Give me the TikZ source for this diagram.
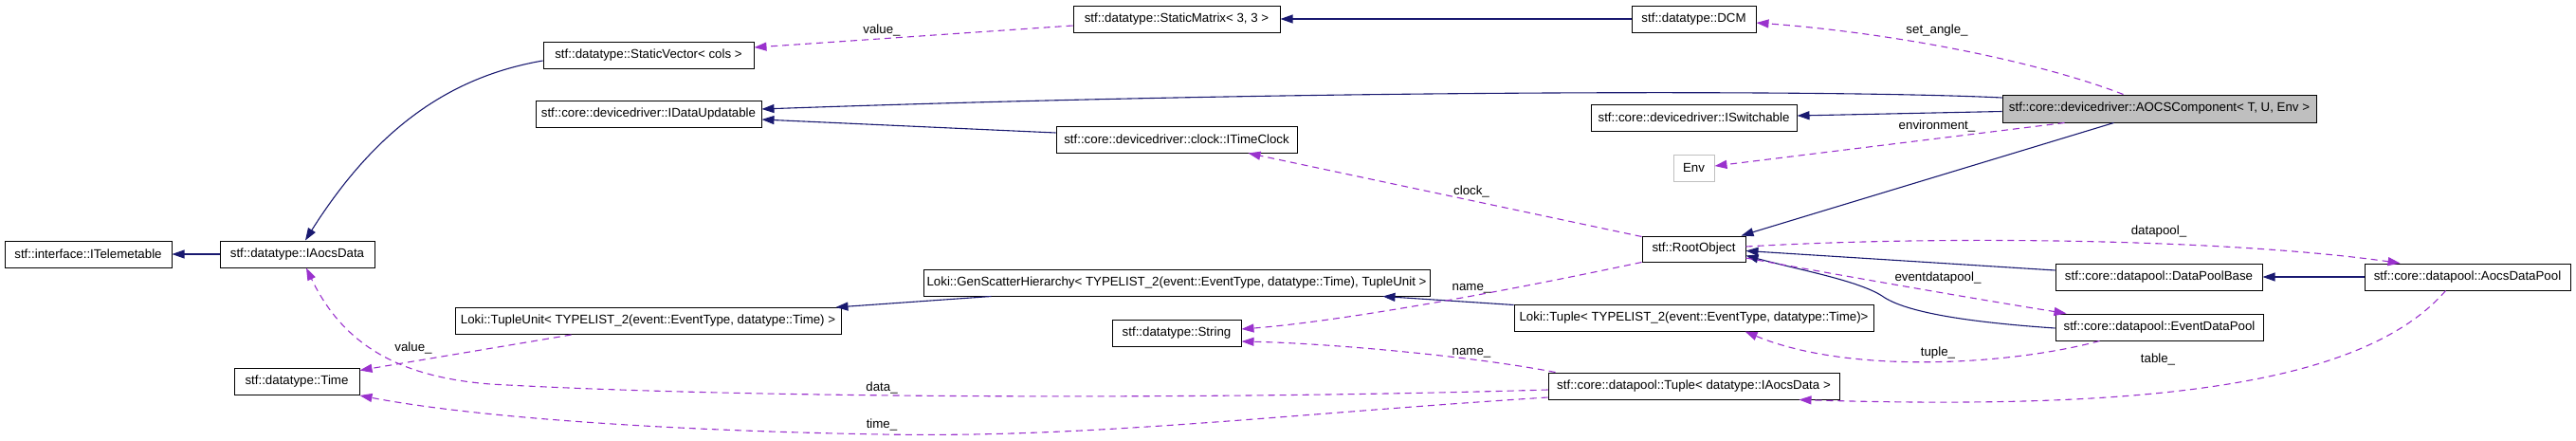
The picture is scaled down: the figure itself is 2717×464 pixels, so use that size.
\documentclass[tikz,border=0pt]{standalone}
\usepackage{fontspec}
\setmainfont{Liberation Sans}
\usetikzlibrary{arrows.meta,calc}
\definecolor{inhc}{RGB}{25,25,112}
\definecolor{usec}{RGB}{154,50,205}
\definecolor{boxgray}{RGB}{191,191,191}
\begin{document}
\begin{tikzpicture}[x=1pt,y=-1pt,
  cls/.style={draw=black, line width=1pt, fill=white, minimum height=28pt, inner sep=0pt,
    font=\fontsize{13.3}{16}\selectfont, anchor=center},
  inh/.style={draw=inhc, line width=1.1pt, -{Triangle[length=13pt,width=9pt]}},
  use/.style={draw=usec, line width=1.1pt, dash pattern=on 7pt off 5pt, -{Triangle[length=13pt,width=9pt]}},
  lbl/.style={font=\fontsize{13.3}{16}\selectfont, inner sep=0pt}]
\useasboundingbox (0,0) rectangle (2717,464);
% nodes
\node[cls, minimum width=176pt] (tel) at (93,268) {stf::interface::ITelemetable};
\node[cls, minimum width=163pt] (iaocs) at (313.5,268) {stf::datatype::IAocsData};
\node[cls, minimum width=222pt] (svec) at (684,58) {stf::datatype::StaticVector< cols >};
\node[cls, minimum width=238pt] (supd) at (684,120) {stf::core::devicedriver::IDataUpdatable};
\node[cls, minimum width=407pt] (tunit) at (683.5,338.5) {Loki::TupleUnit< TYPELIST\_2(event::EventType, datatype::Time) >};
\node[cls, minimum width=132pt] (time) at (313,402.5) {stf::datatype::Time};
\node[cls, minimum width=218pt] (smat) at (1241,20) {stf::datatype::StaticMatrix< 3, 3 >};
\node[cls, minimum width=254pt] (clock) at (1241,147) {stf::core::devicedriver::clock::ITimeClock};
\node[cls, minimum width=534pt] (gsh) at (1241,298) {Loki::GenScatterHierarchy< TYPELIST\_2(event::EventType, datatype::Time), TupleUnit >};
\node[cls, minimum width=136pt] (str) at (1241,351.5) {stf::datatype::String};
\node[cls, minimum width=131pt] (dcm) at (1786.5,20) {stf::datatype::DCM};
\node[cls, minimum width=217pt] (isw) at (1786.5,124) {stf::core::devicedriver::ISwitchable};
\node[cls, draw=boxgray, minimum width=43pt] (env) at (1786.5,177) {Env};
\node[cls, minimum width=109pt, minimum height=27pt] (root) at (1786.5,262.5) {stf::RootObject};
\node[cls, minimum width=379pt] (ltuple) at (1786.5,335) {Loki::Tuple< TYPELIST\_2(event::EventType, datatype::Time)>};
\node[cls, minimum width=307pt] (dtuple) at (1786.5,407) {stf::core::datapool::Tuple< datatype::IAocsData >};
\node[cls, fill=boxgray, minimum width=331pt, minimum height=29pt] (aocs) at (2277.5,114.5) {stf::core::devicedriver::AOCSComponent< T, U, Env >};
\node[cls, minimum width=218pt] (dpbase) at (2277,292) {stf::core::datapool::DataPoolBase};
\node[cls, minimum width=219pt] (edp) at (2277.5,345) {stf::core::datapool::EventDataPool};
\node[cls, minimum width=217pt] (adp) at (2602.5,292) {stf::core::datapool::AocsDataPool};
% inheritance edges
\draw[inh] (iaocs.west) -- (tel.east);
\draw[inh] ($(svec.west)+(0,6)$) .. controls (480,80) and (400,130) .. ($(iaocs.north)+(8.5,0)$);
\draw[inh] (dcm.west) -- (smat.east);
\draw[inh] ($(aocs.west)+(0,-11.5)$) .. controls (1950,95) and (1400,94) .. ($(supd.east)+(0,-5)$);
\draw[inh] ($(clock.west)+(0,-7)$) -- ($(supd.east)+(0,6)$);
\draw[inh] ($(aocs.west)+(0,3)$) -- ($(isw.east)+(0,-2)$);
\draw[inh] ($(aocs.south west)+(118,0)$) -- ($(root.north east)+(-5,0)$);
\draw[inh] ($(ltuple.north west)+(0,1)$) -- ($(gsh.south east)+(-50,0)$);
\draw[inh] ($(gsh.south west)+(72,0)$) -- ($(tunit.north east)+(-6,0)$);
\draw[inh] ($(dpbase.west)+(0,-7)$) -- ($(root.east)+(0,2)$);
\draw[inh] (adp.west) -- (dpbase.east);
\draw[inh] ($(edp.west)+(0,1)$) .. controls (2080,340) and (2010,330) .. (1985,312)
  .. controls (1960,296) and (1900,285) .. ($(root.east)+(0,7)$);
% usage edges
\draw[use] ($(smat.west)+(0,7)$) -- ($(svec.east)+(0,-8)$);
\draw[use] ($(aocs.south west)+(66,0)$) -- ($(env.east)+(0,-2)$);
\draw[use] ($(aocs.north west)+(128,0)$) .. controls (2150,65) and (2000,35) .. ($(dcm.east)+(0,4)$);
\draw[use] ($(root.north west)+(0,1)$) -- ($(clock.south east)+(-52,0)$);
\draw[use] (root.south west) .. controls (1550,315) and (1400,340) .. ($(str.east)+(0,-4.5)$);
\draw[use] ($(dtuple.north west)+(8,0)$) .. controls (1550,375) and (1400,362) .. ($(str.east)+(0,8.5)$);
\draw[use] ($(tunit.south west)+(123,0)$) -- ($(time.east)+(0,-12)$);
\draw[use] ($(dtuple.west)+(0,4)$) .. controls (1300,421) and (800,421) .. (517,405)
  .. controls (430,398) and (365,370) .. ($(iaocs.south)+(9.5,0)$);
\draw[use] ($(dtuple.west)+(0,12)$) .. controls (1350,437) and (1150,462) .. (930,458)
  .. controls (700,454) and (500,440) .. (time.south east);
\draw[use] ($(root.east)+(0,-2.5)$) .. controls (2050,248) and (2350,252) .. ($(adp.north west)+(38,0)$);
\draw[use] ($(root.east)+(0,9.5)$) .. controls (1950,292) and (2100,318) .. ($(edp.north west)+(12,0)$);
\draw[use] ($(edp.south west)+(47,0)$) .. controls (2120,385) and (1950,395) .. ($(ltuple.south east)+(-136,0)$);
\draw[use] ($(adp.south west)+(86,0)$) .. controls (2490,410) and (2250,432) .. ($(dtuple.south east)+(-43,0)$);
% edge labels
\node[lbl] (l1) at (930,32) {value\_};
\node[lbl] (l2) at (2043,32) {set\_angle\_};
\node[lbl] (l3) at (2043,133) {environment\_};
\node[lbl] (l4) at (1552,202) {clock\_};
\node[lbl] (l5) at (1552,304) {name\_};
\node[lbl] (l6) at (1552,372) {name\_};
\node[lbl] (l7) at (436,367) {value\_};
\node[lbl] (l8) at (930,409) {data\_};
\node[lbl] (l9) at (930,448) {time\_};
\node[lbl] (l10) at (2277,244) {datapool\_};
\node[lbl] (l11) at (2044,293) {eventdatapool\_};
\node[lbl] (l12) at (2044,372) {tuple\_};
\node[lbl] (l13) at (2276,379) {table\_};
\end{tikzpicture}
\end{document}
